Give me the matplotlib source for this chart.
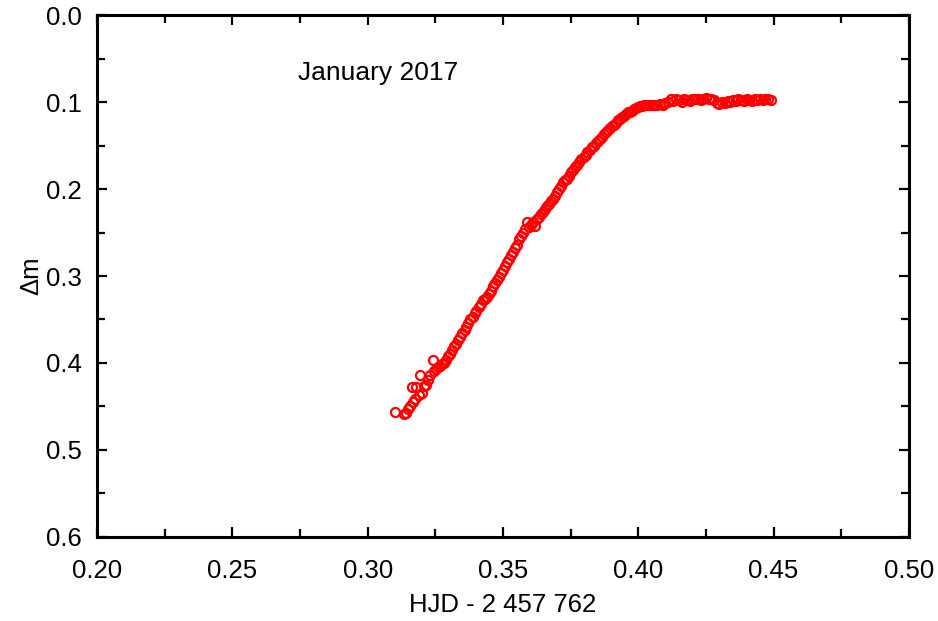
import numpy as np
import matplotlib.pyplot as plt
from matplotlib.ticker import MultipleLocator

plt.rcParams['font.family'] = ['Liberation Sans', 'DejaVu Sans']

# HJD - 2457762 and differential magnitude
hjd = [0.3100, 0.3135, 0.3142, 0.3150, 0.3158, 0.3163, 0.3168, 0.3175, 0.3180, 0.3188,
       0.3195, 0.3200, 0.3208, 0.3215, 0.3222, 0.3230, 0.3240, 0.3245, 0.3252, 0.3260,
       0.3268, 0.3275, 0.3282, 0.3290, 0.3298, 0.3305, 0.3312, 0.3320, 0.3328, 0.3335,
       0.3342, 0.3350, 0.3358, 0.3365, 0.3372, 0.3380, 0.3388, 0.3395, 0.3402, 0.3410,
       0.3418, 0.3425, 0.3432, 0.3440, 0.3448, 0.3455, 0.3462, 0.3470, 0.3478, 0.3485,
       0.3492, 0.3500, 0.3508, 0.3515, 0.3522, 0.3530, 0.3538, 0.3545, 0.3552, 0.3560,
       0.3568, 0.3575, 0.3582, 0.3590, 0.3595, 0.3602, 0.3610, 0.3618, 0.3625, 0.3632,
       0.3640, 0.3648, 0.3655, 0.3662, 0.3670, 0.3678, 0.3685, 0.3692, 0.3700, 0.3708,
       0.3715, 0.3722, 0.3730, 0.3738, 0.3745, 0.3752, 0.3760, 0.3768, 0.3775, 0.3782,
       0.3790, 0.3798, 0.3805, 0.3812, 0.3820, 0.3828, 0.3835, 0.3842, 0.3850, 0.3858,
       0.3865, 0.3872, 0.3880, 0.3888, 0.3895, 0.3902, 0.3910, 0.3918, 0.3925, 0.3932,
       0.3940, 0.3948, 0.3955, 0.3962, 0.3970, 0.3978, 0.3985, 0.3992, 0.4000, 0.4008,
       0.4015, 0.4022, 0.4030, 0.4040, 0.4050, 0.4060, 0.4070, 0.4080, 0.4090, 0.4100,
       0.4110, 0.4120, 0.4130, 0.4140, 0.4150, 0.4160, 0.4170, 0.4180, 0.4190, 0.4200,
       0.4210, 0.4220, 0.4230, 0.4240, 0.4250, 0.4260, 0.4270, 0.4280, 0.4290, 0.4300,
       0.4310, 0.4320, 0.4330, 0.4340, 0.4350, 0.4360, 0.4370, 0.4380, 0.4390, 0.4400,
       0.4410, 0.4420, 0.4430, 0.4440, 0.4450, 0.4460, 0.4470, 0.4480, 0.4490]
dmag = [0.456, 0.459, 0.457, 0.453, 0.449, 0.428, 0.445, 0.441, 0.428, 0.437,
        0.414, 0.435, 0.426, 0.425, 0.420, 0.414, 0.397, 0.409, 0.407, 0.405,
        0.403, 0.401, 0.400, 0.396, 0.392, 0.390, 0.385, 0.381, 0.378, 0.374,
        0.370, 0.366, 0.362, 0.359, 0.354, 0.350, 0.347, 0.343, 0.340, 0.336,
        0.332, 0.328, 0.327, 0.324, 0.321, 0.317, 0.312, 0.308, 0.305, 0.301,
        0.297, 0.293, 0.288, 0.284, 0.280, 0.276, 0.272, 0.268, 0.264, 0.258,
        0.254, 0.251, 0.246, 0.238, 0.244, 0.241, 0.238, 0.243, 0.235, 0.232,
        0.229, 0.226, 0.223, 0.220, 0.217, 0.214, 0.211, 0.208, 0.204, 0.200,
        0.196, 0.192, 0.190, 0.188, 0.185, 0.181, 0.178, 0.175, 0.172, 0.169,
        0.166, 0.163, 0.161, 0.158, 0.155, 0.152, 0.150, 0.147, 0.145, 0.142,
        0.140, 0.137, 0.135, 0.132, 0.130, 0.128, 0.126, 0.124, 0.121, 0.119,
        0.117, 0.116, 0.114, 0.112, 0.111, 0.110, 0.108, 0.107, 0.106, 0.105,
        0.105, 0.104, 0.104, 0.103, 0.104, 0.103, 0.103, 0.102, 0.103, 0.101,
        0.100, 0.096, 0.099, 0.096, 0.098, 0.100, 0.097, 0.098, 0.099, 0.097,
        0.096, 0.097, 0.098, 0.096, 0.095, 0.097, 0.096, 0.098, 0.101, 0.102,
        0.100, 0.101, 0.099, 0.100, 0.098, 0.099, 0.097, 0.098, 0.099, 0.097,
        0.098, 0.099, 0.097, 0.098, 0.096, 0.098, 0.097, 0.096, 0.098]

fig = plt.figure(figsize=(9.38, 6.21), dpi=100)
ax = fig.add_axes([0.1034, 0.1353, 0.8656, 0.8405])

ax.plot(hjd, dmag, 'o', mfc='none', mec='red', ms=6.5, mew=1.6)

ax.set_xlim(0.20, 0.50)
ax.set_ylim(0.6, 0.0)
ax.xaxis.set_major_locator(MultipleLocator(0.05))
ax.xaxis.set_minor_locator(MultipleLocator(0.025))
ax.yaxis.set_major_locator(MultipleLocator(0.1))
ax.yaxis.set_minor_locator(MultipleLocator(0.05))
ax.xaxis.set_major_formatter(plt.FormatStrFormatter('%.2f'))
ax.yaxis.set_major_formatter(plt.FormatStrFormatter('%.1f'))

ax.tick_params(which='both', direction='in', top=True, right=True, width=1.6, labelsize=18.5)
ax.tick_params(which='major', length=7)
ax.tick_params(which='minor', length=6)
ax.tick_params(axis='x', which='major', pad=16)
ax.tick_params(axis='y', which='major', pad=11)
for s in ax.spines.values():
    s.set_linewidth(2.2)

ax.set_xlabel('HJD - 2 457 762', fontsize=18.5, labelpad=7)
ax.set_ylabel('Δm', fontsize=18.5, labelpad=2)
ax.text(0.2742, 0.0667, 'January 2017', fontsize=19, va='center')

fig.savefig('out.png', dpi=100)
